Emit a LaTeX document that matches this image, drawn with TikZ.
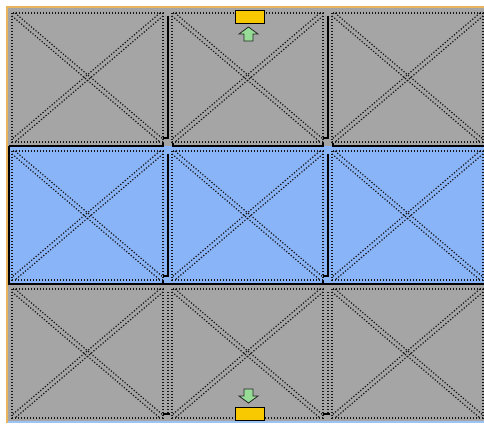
\documentclass[tikz,border=0pt]{standalone}
\definecolor{panelgray}{HTML}{A5A5A5}
\definecolor{panelblue}{HTML}{8AB4F8}
\definecolor{frameorange}{HTML}{E8B45C}
\definecolor{gripyellow}{HTML}{F8C800}
\definecolor{arrowgreen}{HTML}{96DC96}
\definecolor{stripblue}{HTML}{9CC3F2}
\definecolor{dotcol}{HTML}{141414}
\tikzset{
 dotline/.style={draw=dotcol, line width=1.2pt, dash pattern=on 1.2pt off 1.8pt},
 solidline/.style={draw=black, line width=1.3pt},
 gripbox/.style={draw=black, line width=1pt, fill=gripyellow, minimum width=29pt, minimum height=13pt, inner sep=0pt, outer sep=0pt},
 griparrow/.style={draw=black!85, line width=0.8pt, fill=arrowgreen, line join=miter}
}
\begin{document}
\begin{tikzpicture}[x=1pt,y=-1pt]
\useasboundingbox (0,0) rectangle (484,423);
\fill[white] (0,0) rectangle (484,423);
\fill[panelgray] (8,8) rectangle (484,146);
\fill[panelblue] (8,146) rectangle (484,284);
\fill[panelgray] (8,284) rectangle (484,421);
\fill[stripblue] (8,421) rectangle (484,423);
\draw[frameorange, line width=1.2pt] (7,423) -- (7,7) -- (484,7);
% cells
\foreach \r in {0,1,2} {
 \foreach \c in {0,1,2} {
  \pgfmathsetmacro\L{12+160*\c}
  \pgfmathsetmacro\R{163+160*\c}
  \pgfmathsetmacro\T{13+138*\r}
  \pgfmathsetmacro\B{142+138*\r}
  \draw[dotline] (\L,\T) rectangle (\R,\B);
  \draw[dotline] (\L+3,\T) -- (\R,\B-3);
  \draw[dotline] (\L,\T+3) -- (\R-3,\B);
  \draw[dotline] (\R-3,\T) -- (\L,\B-3);
  \draw[dotline] (\R,\T+3) -- (\L+3,\B);
 }
}
% separators
\foreach \x in {168,328} {
 \draw[solidline] (\x-5,138) -- (\x,138) -- (\x,16);
 \draw[solidline] (\x-5,276) -- (\x,276) -- (\x,154);
 \draw[dotline] (\x,292) -- (\x,413);
 \draw[solidline] (\x-5,414) -- (\x+2,414);
}
% horizontal separators
\draw[solidline] (9,146) -- (163,146) -- (163,143);
\draw[solidline] (173,143) -- (173,146) -- (323,146) -- (323,143);
\draw[solidline] (333,143) -- (333,146) -- (484,146);
\draw[solidline] (9,146) -- (9,284) -- (484,284);
\draw[solidline] (163,284) -- (163,281);
\draw[solidline] (323,284) -- (323,281);
% grips
\node[gripbox] (topgrip) at (249.5,16.5) {};
\node[gripbox] (bottomgrip) at (249.5,414) {};
\draw[griparrow] (248.5,27) -- (258,34) -- (253,34) -- (253,41) -- (244,41) -- (244,34) -- (239,34) -- cycle;
\draw[griparrow] (244,389) -- (253,389) -- (253,396) -- (258,396) -- (248.5,403) -- (239,396) -- (244,396) -- cycle;
\end{tikzpicture}
\end{document}
